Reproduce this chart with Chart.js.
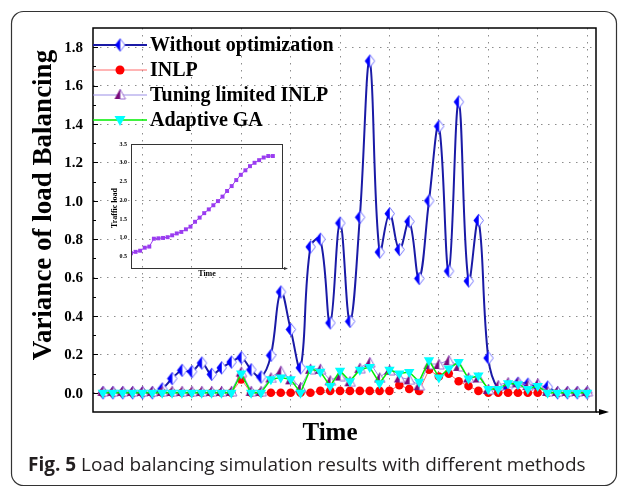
<!DOCTYPE html>
<html>
<head>
<meta charset="utf-8">
<script src="https://cdn.jsdelivr.net/npm/chart.js@4.4.1/dist/chart.umd.min.js"></script>
<style>
  html, body { margin: 0; padding: 0; background: #fff; }
  #wrap { position: relative; width: 627px; height: 487px; }
  #main { position: absolute; left: 0; top: 0; }
  #inset { position: absolute; left: 100px; top: 138px; }
</style>
</head>
<body>
<div id="wrap">
  <canvas id="main" width="627" height="487"></canvas>
  <canvas id="inset" width="190" height="146"></canvas>
</div>
<script>
// --- data ---
const times = [1, 2, 3, 4, 5, 6, 7, 8, 9, 10, 11, 12, 13, 14, 15, 16, 17, 18, 19, 20,
  21, 22, 23, 24, 25, 26, 27, 28, 29, 30, 31, 32, 33, 34, 35, 36, 37, 38, 39, 40,
  41, 42, 43, 44, 45, 46, 47, 48, 49, 50]

const withoutOpt = [0, 0, 0, 0, 0, 0, 0.02, 0.074, 0.117, 0.11,
  0.155, 0.096, 0.13, 0.16, 0.183, 0.12, 0.082, 0.195, 0.525, 0.33,
  0.13, 0.76, 0.8, 0.364, 0.884, 0.372, 0.914, 1.728, 0.733, 0.933,
  0.746, 0.892, 0.595, 1.0, 1.388, 0.634, 1.515, 0.582, 0.898, 0.181,
  0.02, 0.03, 0.05, 0.045, 0.03, 0.03, 0, 0, 0, 0]

const inlp = [0, 0, 0, 0, 0, 0, 0, 0, 0, 0,
  0, 0, 0, 0, 0.07, 0, 0, 0, 0, 0,
  0, 0, 0.01, 0.01, 0.01, 0.01, 0.01, 0.01, 0.01, 0.01,
  0.04, 0.02, 0.01, 0.12, 0.085, 0.1, 0.06, 0.035, 0.01, 0,
  0, 0, 0, 0, 0, 0, 0, 0, 0, 0]

const tuningInlp = [0.01, 0.01, 0.01, 0.01, 0.01, 0.01, 0.01, 0.01, 0.01, 0.01,
  0.01, 0.01, 0.01, 0.01, 0.11, 0.01, 0.01, 0.08, 0.115, 0.07,
  0.03, 0.125, 0.125, 0.065, 0.09, 0.06, 0.13, 0.16, 0.08, 0.12,
  0.08, 0.07, 0.04, 0.15, 0.15, 0.17, 0.14, 0.08, 0.08, 0.02,
  0.04, 0.055, 0.055, 0.04, 0.05, 0.01, 0.01, 0.01, 0.01, 0.01]

const adaptiveGa = [0, 0, 0, 0, 0, 0, 0, 0, 0, 0,
  0, 0, 0, 0, 0.1, 0, 0, 0.07, 0.08, 0.07,
  0, 0.125, 0.11, 0.035, 0.115, 0.06, 0.12, 0.134, 0.05, 0.12,
  0.1, 0.108, 0.058, 0.17, 0.08, 0.126, 0.16, 0.074, 0.09, 0.02,
  0.02, 0.05, 0.045, 0.02, 0.035, 0, 0, 0, 0, 0]

const yTicks = [0, 0.2, 0.4, 0.6, 0.8, 1.0, 1.2, 1.4, 1.6, 1.8]
const yMinor = [0.1, 0.3, 0.5, 0.7, 0.9, 1.1, 1.3, 1.5, 1.7]
const xGrid = [5, 10, 15, 20, 25, 30, 35, 40, 45, 50]

// inset: traffic load over time
const insetTime = [0, 1, 2, 3, 4, 5, 6, 7, 8, 9, 10, 11, 12, 13, 14, 15,
  16, 17, 18, 19, 20, 21, 22, 23, 24, 25, 26, 27, 28, 29, 30, 31]
const trafficLoad = [0.59, 0.63, 0.66, 0.74, 0.77, 0.98, 0.99, 1.0, 1.02, 1.07, 1.12, 1.16,
  1.23, 1.3, 1.43, 1.54, 1.66, 1.76, 1.87, 1.98, 2.1, 2.25, 2.38, 2.54,
  2.68, 2.8, 2.91, 3.0, 3.07, 3.14, 3.18, 3.18]
const insetYTicks = [0.5, 1.0, 1.5, 2.0, 2.5, 3.0, 3.5]

const legendLabels = ["Without optimization", "INLP", "Tuning limited INLP", "Adaptive GA"]

const SERIF = '"Liberation Serif", "Times New Roman", serif'
const pts = (vals) => times.map((t, i) => ({ x: t, y: vals[i] }))

// half-filled markers like the Origin plot
function halfDiamond() {
  const c = document.createElement("canvas")
  c.width = 13
  c.height = 15
  const g = c.getContext("2d")
  const cx = 6.5, cy = 7.5, w = 5, h = 6.5
  g.beginPath()
  g.moveTo(cx, cy - h); g.lineTo(cx + w, cy); g.lineTo(cx, cy + h); g.closePath()
  g.fillStyle = "#fff"; g.fill()
  g.strokeStyle = "#6f6fff"; g.lineWidth = 1; g.stroke()
  g.beginPath()
  g.moveTo(cx, cy - h); g.lineTo(cx - w, cy); g.lineTo(cx, cy + h); g.closePath()
  g.fillStyle = "#0000ff"; g.fill()
  return c
}

function halfTriangle() {
  const c = document.createElement("canvas")
  c.width = 13
  c.height = 12
  const g = c.getContext("2d")
  g.beginPath()
  g.moveTo(6.5, 1); g.lineTo(12, 11); g.lineTo(6.5, 11); g.closePath()
  g.fillStyle = "#fff"; g.fill()
  g.strokeStyle = "#9a6ad0"; g.lineWidth = 1; g.stroke()
  g.beginPath()
  g.moveTo(6.5, 1); g.lineTo(1, 11); g.lineTo(6.5, 11); g.closePath()
  g.fillStyle = "#7a0a7a"; g.fill()
  return c
}

const diamond = halfDiamond()
const triangle = halfTriangle()

// --- decorations: frame, ticks, legend, titles, caption ---
const mainDecor = {
  id: "mainDecor",
  afterDraw(chart) {
    const { ctx, chartArea: a, scales } = chart
    const y = scales.y
    const datasets = chart.data.datasets
    ctx.save()

    // axis frame
    ctx.strokeStyle = "#000"
    ctx.lineWidth = 1.5
    ctx.strokeRect(a.left, a.top, a.right - a.left, a.bottom - a.top)
    // arrow on x axis
    ctx.beginPath()
    ctx.moveTo(a.right, a.bottom); ctx.lineTo(a.right + 5, a.bottom)
    ctx.stroke()
    ctx.beginPath()
    ctx.moveTo(a.right + 3, a.bottom - 3)
    ctx.lineTo(a.right + 13, a.bottom)
    ctx.lineTo(a.right + 3, a.bottom + 3)
    ctx.closePath()
    ctx.fillStyle = "#000"
    ctx.fill()

    // inward ticks + tick labels
    ctx.lineWidth = 1.2
    ctx.beginPath()
    yTicks.forEach((v) => {
      const py = Math.round(y.getPixelForValue(v)) + 0.5
      ctx.moveTo(a.left, py); ctx.lineTo(a.left + 5, py)
    })
    yMinor.forEach((v) => {
      const py = Math.round(y.getPixelForValue(v)) + 0.5
      ctx.moveTo(a.left, py); ctx.lineTo(a.left + 3, py)
    })
    ctx.stroke()
    ctx.font = "bold 15px " + SERIF
    ctx.textAlign = "right"
    ctx.textBaseline = "middle"
    ctx.fillStyle = "#000"
    yTicks.forEach((v) => {
      ctx.fillText(v.toFixed(1), a.left - 10, y.getPixelForValue(v) + 1)
    })

    // legend
    const rowY = [45, 70, 95, 120]
    ctx.font = "bold 20px " + SERIF
    ctx.textAlign = "left"
    datasets.forEach((ds, i) => {
      const ly = rowY[i]
      ctx.strokeStyle = ds.borderColor
      ctx.lineWidth = ds.borderWidth
      ctx.beginPath()
      ctx.moveTo(a.left, ly); ctx.lineTo(a.left + 54, ly)
      ctx.stroke()
      const mx = a.left + 27
      if (i === 0) ctx.drawImage(diamond, mx - 6.5, ly - 7.5)
      if (i === 1) {
        ctx.beginPath(); ctx.arc(mx, ly, 4.5, 0, Math.PI * 2)
        ctx.fillStyle = "#ff0000"; ctx.fill()
      }
      if (i === 2) ctx.drawImage(triangle, mx - 6.5, ly - 7)
      if (i === 3) {
        ctx.beginPath()
        ctx.moveTo(mx - 5.5, ly - 4); ctx.lineTo(mx + 5.5, ly - 4); ctx.lineTo(mx, ly + 6)
        ctx.closePath()
        ctx.fillStyle = "#00ffff"; ctx.fill()
      }
      ctx.fillStyle = "#000"
      ctx.fillText(legendLabels[i], a.left + 57, ly + 1)
    })

    // axis titles
    ctx.font = "bold 27px " + SERIF
    ctx.textAlign = "center"
    ctx.save()
    ctx.translate(44, 205)
    ctx.rotate(-Math.PI / 2)
    ctx.fillText("Variance of load Balancing", 0, 0)
    ctx.restore()
    ctx.font = "bold 25px " + SERIF
    ctx.fillText("Time", 330, 434)

    // caption
    ctx.textAlign = "left"
    ctx.fillStyle = "#231f20"
    ctx.font = 'bold 19px "Open Sans", "Noto Sans", sans-serif'
    ctx.fillText("Fig. 5", 28, 466)
    const w = ctx.measureText("Fig. 5").width
    ctx.font = '19px "Open Sans", "Noto Sans", sans-serif'
    ctx.fillText(" Load balancing simulation results with different methods", 28 + w, 466)

    // figure box
    ctx.strokeStyle = "#333"
    ctx.lineWidth = 1.2
    ctx.beginPath()
    ctx.roundRect(11.5, 11.5, 605, 474, 12)
    ctx.stroke()
    ctx.restore()
  },
}

new Chart(document.getElementById("main"), {
  type: "line",
  data: {
    datasets: [
      {
        label: legendLabels[0],
        data: pts(withoutOpt),
        borderColor: "#1a1aa6",
        borderWidth: 2,
        tension: 0.4,
        pointStyle: diamond,
        order: 3,
      },
      {
        label: legendLabels[1],
        data: pts(inlp),
        borderColor: "#ff6a6a",
        borderWidth: 1,
        pointStyle: "circle",
        pointRadius: 4.3,
        pointBackgroundColor: "#ff0000",
        pointBorderWidth: 0,
        order: 2,
      },
      {
        label: legendLabels[2],
        data: pts(tuningInlp),
        borderColor: "#9b8fe6",
        borderWidth: 1,
        pointStyle: triangle,
        order: 1,
      },
      {
        label: legendLabels[3],
        data: pts(adaptiveGa),
        borderColor: "#00ee00",
        borderWidth: 1.5,
        pointStyle: "triangle",
        rotation: 180,
        pointRadius: 6,
        pointBackgroundColor: "#00ffff",
        pointBorderColor: "#00ffff",
        pointBorderWidth: 0,
        order: 0,
      },
    ],
  },
  options: {
    responsive: false,
    animation: false,
    devicePixelRatio: 1,
    layout: { padding: { left: 93, top: 28, right: 31, bottom: 75 } },
    plugins: { legend: { display: false }, tooltip: { enabled: false } },
    scales: {
      x: {
        type: "linear",
        min: 0,
        max: 50.9,
        afterFit: (s) => { s.height = 0 },
        afterBuildTicks: (s) => { s.ticks = xGrid.map((v) => ({ value: v })) },
        ticks: { display: false },
        grid: { color: "#8c8c8c", lineWidth: 1, drawTicks: false },
        border: { display: false, dash: [1.5, 5.5] },
      },
      y: {
        min: -0.1,
        max: 1.9,
        afterFit: (s) => { s.width = 0 },
        afterBuildTicks: (s) => { s.ticks = yTicks.map((v) => ({ value: v })) },
        ticks: { display: false },
        grid: { color: "#8c8c8c", lineWidth: 1, drawTicks: false },
        border: { display: false, dash: [1.5, 5.5] },
      },
    },
  },
  plugins: [mainDecor],
})

// --- inset ---
const insetDecor = {
  id: "insetDecor",
  afterDraw(chart) {
    const { ctx, chartArea: a, scales } = chart
    ctx.save()
    ctx.strokeStyle = "#333"
    ctx.lineWidth = 1
    ctx.strokeRect(a.left + 0.5, a.top + 0.5, a.right - a.left, a.bottom - a.top)
    ctx.beginPath()
    ctx.moveTo(a.right, a.bottom + 0.5); ctx.lineTo(a.right + 4, a.bottom + 0.5)
    ctx.stroke()
    ctx.beginPath()
    ctx.moveTo(a.right + 2, a.bottom - 1); ctx.lineTo(a.right + 6, a.bottom + 0.5); ctx.lineTo(a.right + 2, a.bottom + 2)
    ctx.closePath()
    ctx.fillStyle = "#333"
    ctx.fill()

    ctx.fillStyle = "#000"
    ctx.textBaseline = "middle"
    ctx.textAlign = "right"
    ctx.font = "bold 6px " + SERIF
    insetYTicks.forEach((v) => {
      ctx.fillText(v.toFixed(1), a.left - 4, scales.y.getPixelForValue(v))
    })

    ctx.textAlign = "center"
    ctx.font = "bold 8px " + SERIF
    ctx.fillText("Time", 107, 136)
    ctx.translate(15, 70)
    ctx.rotate(-Math.PI / 2)
    ctx.fillText("Traffic load", 0, 0)
    ctx.restore()
  },
}

new Chart(document.getElementById("inset"), {
  type: "line",
  data: {
    datasets: [
      {
        data: insetTime.map((t, i) => ({ x: t, y: trafficLoad[i] })),
        borderColor: "#9a3cf0",
        borderWidth: 1,
        pointStyle: "rect",
        pointRadius: 2.8,
        pointBackgroundColor: "#9a3cf0",
        pointBorderWidth: 0,
      },
    ],
  },
  options: {
    responsive: false,
    animation: false,
    devicePixelRatio: 1,
    layout: { padding: { left: 31, top: 6, right: 8, bottom: 16 } },
    plugins: { legend: { display: false }, tooltip: { enabled: false } },
    scales: {
      x: {
        type: "linear",
        min: 0,
        max: 33,
        afterFit: (s) => { s.height = 0 },
        ticks: { display: false },
        grid: { display: false },
        border: { display: false },
      },
      y: {
        min: 0.2,
        max: 3.5,
        afterFit: (s) => { s.width = 0 },
        ticks: { display: false },
        grid: { display: false },
        border: { display: false },
      },
    },
  },
  plugins: [insetDecor],
})
</script>
</body>
</html>
